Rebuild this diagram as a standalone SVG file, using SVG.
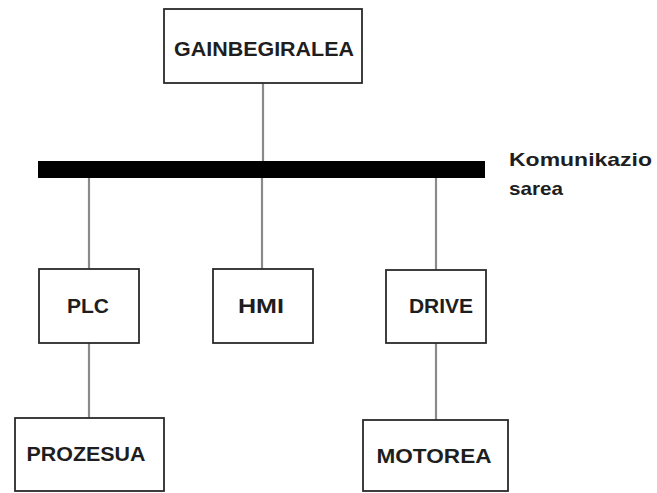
<svg xmlns="http://www.w3.org/2000/svg" width="657" height="493" viewBox="0 0 657 493">
  <style>
    .box { fill: #ffffff; stroke: #2a2a2a; stroke-width: 1.8; }
    .lbl { font-family: "Liberation Sans", Arial, sans-serif; font-weight: bold; font-size: 21px; fill: #1e1e1e; text-anchor: middle; }
    .note { font-family: "Liberation Sans", Arial, sans-serif; font-weight: bold; font-size: 19px; fill: #1e1e1e; }
    .wire { stroke: #8a8a8a; stroke-width: 2.2; fill: none; }
  </style>
  <rect width="657" height="493" fill="#ffffff"/>

  <!-- connectors -->
  <g id="connectors">
    <line class="wire" x1="263" y1="83" x2="263" y2="162"/>
    <line class="wire" x1="89" y1="178" x2="89" y2="269"/>
    <line class="wire" x1="262" y1="178" x2="262" y2="269"/>
    <line class="wire" x1="436" y1="178" x2="436" y2="270"/>
    <line class="wire" x1="89" y1="343" x2="89" y2="418"/>
    <line class="wire" x1="436" y1="343" x2="436" y2="420"/>
  </g>

  <!-- communication bus -->
  <g id="bus">
    <rect x="38" y="161" width="447" height="17" fill="#000000"/>
    <text class="note" x="509" y="166" textLength="143" lengthAdjust="spacingAndGlyphs">Komunikazio</text>
    <text class="note" x="509" y="195" textLength="54" lengthAdjust="spacingAndGlyphs">sarea</text>
  </g>

  <g id="gainbegiralea">
    <rect class="box" x="164" y="9" width="198" height="74"/>
    <text class="lbl" x="264" y="56" textLength="180" lengthAdjust="spacingAndGlyphs">GAINBEGIRALEA</text>
  </g>

  <g id="plc">
    <rect class="box" x="39" y="269" width="100" height="74"/>
    <text class="lbl" x="88" y="313" textLength="42" lengthAdjust="spacingAndGlyphs">PLC</text>
  </g>

  <g id="hmi">
    <rect class="box" x="213" y="269" width="100" height="74"/>
    <text class="lbl" x="261" y="313" textLength="46" lengthAdjust="spacingAndGlyphs">HMI</text>
  </g>

  <g id="drive">
    <rect class="box" x="386" y="270" width="100" height="73"/>
    <text class="lbl" x="441" y="313">DRIVE</text>
  </g>

  <g id="prozesua">
    <rect class="box" x="15" y="418" width="149" height="73"/>
    <text class="lbl" x="86" y="461" textLength="119" lengthAdjust="spacingAndGlyphs">PROZESUA</text>
  </g>

  <g id="motorea">
    <rect class="box" x="363" y="420" width="145" height="71"/>
    <text class="lbl" x="434" y="463" textLength="115" lengthAdjust="spacingAndGlyphs">MOTOREA</text>
  </g>
</svg>
